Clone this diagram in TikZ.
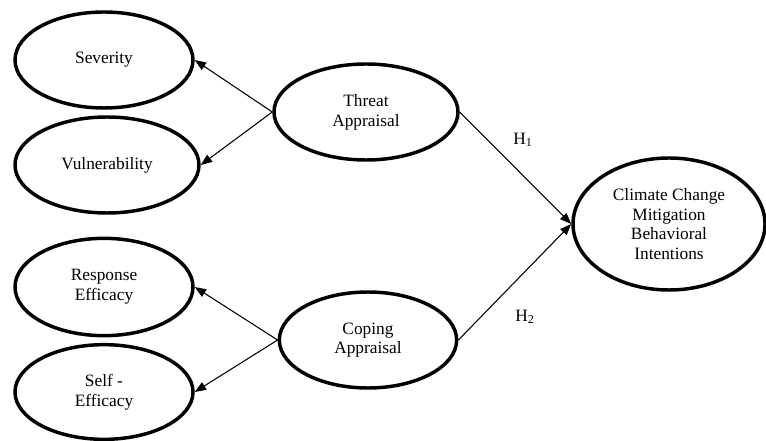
\documentclass[tikz,border=0pt]{standalone}
\usepackage{fontspec}
\setmainfont{Liberation Serif}
\usetikzlibrary{shapes.geometric,arrows.meta}
\begin{document}
\begin{tikzpicture}[x=0.75pt,y=-0.75pt,
  construct/.style={ellipse,draw,line width=2.6pt,inner sep=0pt,align=center,
    font=\fontsize{13}{14.8}\selectfont},
  path/.style={line width=0.8pt,-{Triangle[length=8.5pt,width=6.5pt]}},
  hlabel/.style={font=\fontsize{13}{14.8}\selectfont}]
\useasboundingbox (0,0) rectangle (766,441);
\node[construct,minimum width=133.5pt,minimum height=72pt] (sev) at (104,60) {Severity};
\node[construct,minimum width=138pt,minimum height=72pt] (vul) at (107,165) {Vulnerability};
\node[construct,minimum width=138pt,minimum height=72pt] (thr) at (366,112) {Threat\\Appraisal};
\node[construct,minimum width=133.5pt,minimum height=73pt] (res) at (104,287) {Response\\Efficacy};
\node[construct,minimum width=133.5pt,minimum height=71pt] (slf) at (104,392) {Self -\\Efficacy};
\node[construct,minimum width=133pt,minimum height=72pt] (cop) at (368,340) {Coping\\Appraisal};
\node[construct,minimum width=144pt,minimum height=99pt] (cli) at (669,224) {Climate Change\\Mitigation\\Behavioral\\Intentions};
\draw[path] (thr.west) -- (sev.east);
\draw[path] (thr.west) -- (vul.east);
\draw[path] (cop.west) -- (res.east);
\draw[path] (cop.west) -- (slf.east);
\draw[path] (thr.east) -- (cli.west);
\draw[path] (cop.east) -- (cli.west);
\node[hlabel] (h1) at (523,140) {H\textsubscript{1}};
\node[hlabel] (h2) at (525,317) {H\textsubscript{2}};
\end{tikzpicture}
\end{document}
